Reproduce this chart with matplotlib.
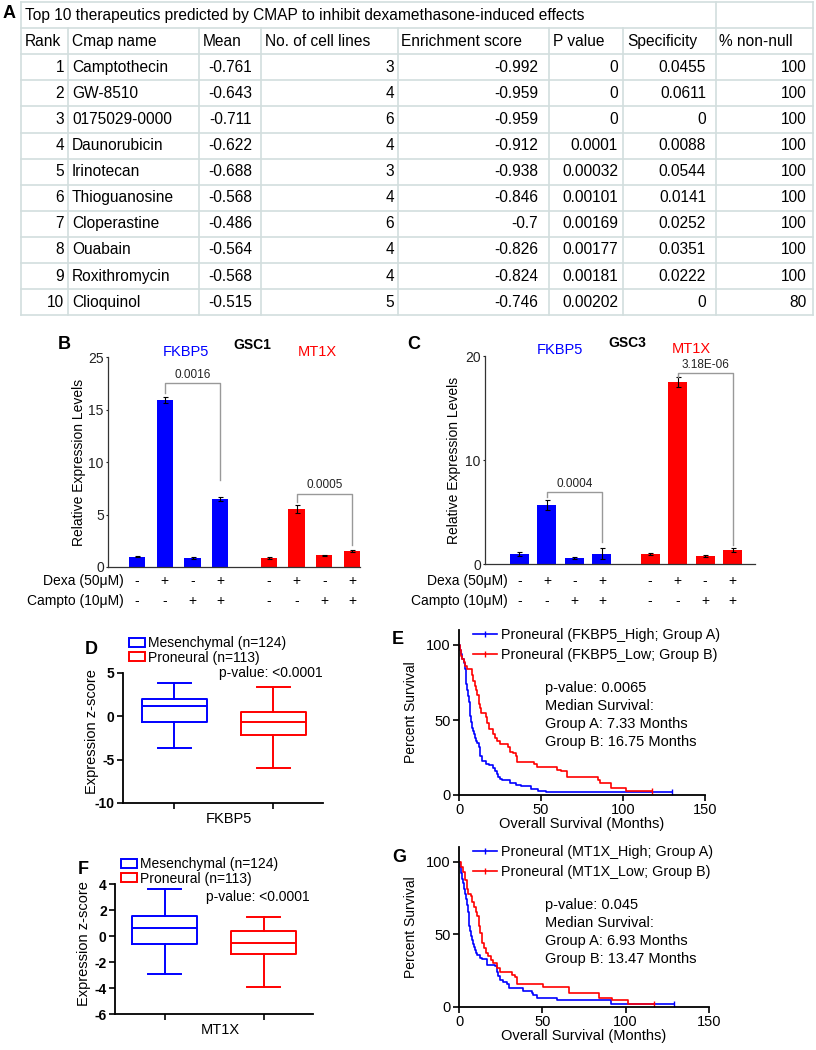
import matplotlib
matplotlib.use('Agg')
import matplotlib.pyplot as plt
import matplotlib.transforms as mtransforms
from matplotlib.lines import Line2D
from matplotlib.patches import Patch

plt.rcParams['font.family'] = ['Liberation Sans', 'DejaVu Sans']

W, H = 816, 1050

# ---- A: CMAP table
table_title = 'Top 10 therapeutics predicted by CMAP to inhibit dexamethasone-induced effects'
headers = ['Rank', 'Cmap name', 'Mean', 'No. of cell lines', 'Enrichment score',
           'P value', 'Specificity', '% non-null']
ranks = [1, 2, 3, 4, 5, 6, 7, 8, 9, 10]
cmap_names = ['Camptothecin', 'GW-8510', '0175029-0000', 'Daunorubicin', 'Irinotecan',
              'Thioguanosine', 'Cloperastine', 'Ouabain', 'Roxithromycin', 'Clioquinol']
means = [-0.761, -0.643, -0.711, -0.622, -0.688, -0.568, -0.486, -0.564, -0.568, -0.515]
n_cell_lines = [3, 4, 6, 4, 3, 4, 6, 4, 4, 5]
enrichment = [-0.992, -0.959, -0.959, -0.912, -0.938, -0.846, -0.7, -0.826, -0.824, -0.746]
p_values = [0, 0, 0, 0.0001, 0.00032, 0.00101, 0.00169, 0.00177, 0.00181, 0.00202]
specificity = [0.0455, 0.0611, 0, 0.0088, 0.0544, 0.0141, 0.0252, 0.0351, 0.0222, 0]
non_null = [100, 100, 100, 100, 100, 100, 100, 100, 100, 80]

# ---- B/C: qPCR bars
dexa = ['-', '+', '-', '+', '-', '+', '-', '+']
campto = ['-', '-', '+', '+', '-', '-', '+', '+']
gsc1_vals = [1.0, 15.9, 0.9, 6.5, 0.85, 5.5, 1.1, 1.5]
gsc1_err = [0.08, 0.3, 0.1, 0.2, 0.1, 0.4, 0.08, 0.08]
gsc3_vals = [1.0, 5.7, 0.6, 1.0, 1.0, 17.5, 0.8, 1.35]
gsc3_err = [0.2, 0.5, 0.1, 0.5, 0.1, 0.5, 0.1, 0.15]
gsc1_pvals = [(1, 3, '0.0016'), (5, 7, '0.0005')]
gsc3_pvals = [(1, 3, '0.0004'), (5, 7, '3.18E-06')]

# ---- D/F: box plots (Mesenchymal, Proneural)
fkbp5_box = [dict(whislo=-3.6, q1=-0.6, med=1.25, q3=2.0, whishi=3.8),
             dict(whislo=-6.0, q1=-2.1, med=-0.65, q3=0.5, whishi=3.35)]
mt1x_box = [dict(whislo=-2.9, q1=-0.6, med=0.6, q3=1.55, whishi=3.6),
            dict(whislo=-3.9, q1=-1.35, med=-0.5, q3=0.35, whishi=1.5)]

# ---- E/G: Kaplan-Meier curves (months, percent survival)
e_high_t = [0, 0.5, 1, 2, 3, 3.5, 4, 4.5, 5, 5.5, 6, 6.5, 7, 7.4, 8, 8.5, 9, 10, 10.5, 11,
            12, 12.5, 13, 14, 16.5, 18, 21, 22, 23, 24, 25, 26, 31, 35, 38, 44, 48, 53, 130]
e_high_s = [100, 97, 94, 91, 88, 84, 79, 74, 70, 66, 62, 58, 53, 49, 45, 43, 41, 38, 36, 35,
            32, 29, 26, 23, 21, 20, 18, 16, 14, 12, 11, 10, 8, 7, 6, 4, 3, 2, 2]
e_low_t = [0, 0.5, 1, 2, 3, 3.7, 4.7, 7.7, 8.5, 9.8, 10.5, 11.2, 12, 12.4, 13, 13.2, 16.5, 17.3,
           18.5, 20.9, 22, 23.4, 25, 30, 31, 33, 34.8, 35.6, 46, 47.4, 59.6, 62, 66, 85, 86,
           92.5, 102, 117.5]
e_low_s = [100, 97, 93, 91, 89, 86, 84, 80, 76, 73, 70, 67, 64, 61, 58, 55, 52, 48,
           44, 41, 38, 36, 34, 32, 29, 28, 26, 22, 21, 19, 17, 16, 12, 10, 8,
           5, 2.5, 2.5]
g_high_t = [0, 0.5, 1, 1.6, 2.3, 3, 3.6, 4.2, 4.7, 5.2, 5.7, 6.2, 6.6, 7, 7.6, 8.2, 9, 9.6,
            10.3, 11, 12.6, 13.5, 17, 21.6, 22.6, 23.5, 24.6, 26.6, 28.6, 30.2, 38.2, 43.6,
            44.6, 46.6, 59, 91, 129]
g_high_s = [100, 96, 92, 88, 85, 81, 78, 74, 70, 65, 60, 56, 52, 49, 46, 43, 41, 39,
            37, 36, 34, 33, 29, 28, 24, 21, 18.5, 17, 16, 13, 11, 9.7,
            8, 6.5, 4.6, 2.3, 2.3]
g_low_t = [0, 1, 2.6, 3.6, 4.6, 5.6, 7, 7.6, 9, 10.2, 11, 11.8, 12.2, 12.6, 13.6, 15, 16.2,
           17.6, 19, 20.6, 22.6, 24.6, 31.6, 33.6, 35, 50.6, 66.2, 84.2, 91.6, 101.2, 117]
g_low_s = [100, 96, 93, 87, 81, 78, 76, 72, 69, 65, 62.5, 59, 55.5, 51, 44, 40.5, 37,
           35, 32, 30, 26.6, 24.3, 22, 20.8, 16, 14, 9.3, 6.5, 4.6, 2.3, 2.3]

BLUE = '#0000ff'
RED = '#ff0000'

fig = plt.figure(figsize=(W / 100, H / 100), dpi=100)


def fx(x):
    return x / W


def fy(y):
    return 1 - y / H


def px_axes(l, t, r, b):
    return fig.add_axes([l / W, 1 - b / H, (r - l) / W, (b - t) / H])


# ================= A: table =================
tab = fig.add_axes([0, 0, 1, 1], zorder=-1)
tab.set_xlim(0, W)
tab.set_ylim(H, 0)
tab.axis('off')
col_x = [21, 68, 199, 261, 398, 549, 623, 716, 813]
row_top, row_h = 2, 26.1
n_rows = 12
grid_c = '#d2dede'
for k in range(n_rows + 1):
    y = row_top + k * row_h
    tab.plot([col_x[0], col_x[-1]], [y, y], color=grid_c, lw=1.2)
for i, x in enumerate(col_x):
    y0 = row_top if i in (0, 7, 8) else row_top + row_h
    tab.plot([x, x], [y0, row_top + n_rows * row_h], color=grid_c, lw=1.2)

fs_tab = 11.2
tab.text(25, row_top + row_h / 2, table_title, fontsize=fs_tab, va='center')
head_x = [25, 72, 203, 265, 401, 553, 627, 719]
for hx, h in zip(head_x, headers):
    tab.text(hx, row_top + 1.5 * row_h, h, fontsize=fs_tab, va='center')
cols = [(ranks, 64, 'right'), (cmap_names, 72, 'left'), (means, 252, 'right'),
        (n_cell_lines, 394, 'right'), (enrichment, 538, 'right'), (p_values, 618, 'right'),
        (specificity, 706, 'right'), (non_null, 807, 'right')]
for r in range(len(ranks)):
    yc = row_top + (r + 2.5) * row_h
    for vals, x, ha in cols:
        v = vals[r]
        s = v if isinstance(v, str) else f'{v:g}'
        tab.text(x, yc, s, fontsize=fs_tab, va='center', ha=ha)

fig.text(fx(3), fy(13), 'A', fontsize=13, fontweight='bold', va='center')

# ================= B / C: bars =================
bar_pos = [0, 1, 2, 3, 4.75, 5.75, 6.75, 7.75]
bar_cols = [BLUE] * 4 + [RED] * 4


def bar_panel(box, xlim, ylim, yticks, yticklabels, vals, errs, pvals, width,
              brackets, label_right, ylabel_x):
    ax = px_axes(*box)
    ax.bar(bar_pos, vals, width=width, color=bar_cols,
           yerr=errs, error_kw=dict(ecolor='black', elinewidth=0.8, capsize=1.8, capthick=0.8))
    ax.set_xlim(*xlim)
    ax.set_ylim(*ylim)
    ax.set_yticks(yticks)
    ax.set_yticklabels(yticklabels, fontsize=10)
    ax.set_xticks([])
    for sp in ['top', 'right']:
        ax.spines[sp].set_visible(False)
    for sp in ['left', 'bottom']:
        ax.spines[sp].set_linewidth(0.9)
        ax.spines[sp].set_color('#333333')
    ax.tick_params(axis='y', length=1.5, width=0.8, pad=1.5, colors='#222222')
    # brackets: (left leg gap, top level, right leg gap)
    for (i, j, lab), (le, y_top, re) in zip(pvals, brackets):
        ax.plot([bar_pos[i], bar_pos[i], bar_pos[j], bar_pos[j]],
                [vals[i] + errs[i] + le, y_top, y_top, vals[j] + errs[j] + re],
                color='#999999', lw=1.0)
        ax.text((bar_pos[i] + bar_pos[j]) / 2, y_top + 0.2, lab, ha='center', va='bottom',
                fontsize=8.5, color='#222222')
    tr = mtransforms.blended_transform_factory(ax.transData, fig.transFigure)
    for p, d, c in zip(bar_pos, dexa, campto):
        ax.text(p, fy(581), d, transform=tr, ha='center', va='center', fontsize=10)
        ax.text(p, fy(601), c, transform=tr, ha='center', va='center', fontsize=10)
    fig.text(fx(label_right), fy(581), 'Dexa (50\u03bcM)', ha='right', va='center', fontsize=10)
    fig.text(fx(label_right), fy(601), 'Campto (10\u03bcM)', ha='right', va='center', fontsize=10)
    fig.text(fx(ylabel_x), fy((box[1] + box[3]) / 2), 'Relative Expression Levels',
             rotation=90, ha='center', va='center', fontsize=10)
    return ax


bar_panel((108, 357, 360, 567), (-1.05, 8.04), (0, 20), [0, 5, 10, 15, 20],
          ['0', '5', '10', '15', '25'], gsc1_vals, gsc1_err, gsc1_pvals, 0.59,
          [(0.4, 17.5, 1.6), (0.3, 7.0, 0.5)], 124, 79)
bar_panel((485, 356, 755, 564), (-1.25, 8.56), (0, 20), [0, 10, 20],
          ['0', '10', '20'], gsc3_vals, gsc3_err, gsc3_pvals, 0.69,
          [(0.2, 6.9, 0.6), (0.0, 18.4, 0.3)], 508, 454)

fig.text(fx(58), fy(345), 'B', fontsize=13, fontweight='bold', va='center')
fig.text(fx(186), fy(352), 'FKBP5', color=BLUE, fontsize=10.5, ha='center', va='center')
fig.text(fx(252), fy(345), 'GSC1', fontsize=10, fontweight='bold', ha='center', va='center')
fig.text(fx(317), fy(352), 'MT1X', color=RED, fontsize=10.5, ha='center', va='center')
fig.text(fx(407), fy(345), 'C', fontsize=13, fontweight='bold', va='center')
fig.text(fx(560), fy(350), 'FKBP5', color=BLUE, fontsize=10.5, ha='center', va='center')
fig.text(fx(627), fy(343), 'GSC3', fontsize=10, fontweight='bold', ha='center', va='center')
fig.text(fx(691), fy(349), 'MT1X', color=RED, fontsize=10.5, ha='center', va='center')


# ================= D / F: box plots =================
def box_panel(box, xlim, ylim, yticks, stats, gene, letter_xy, legend_xy, pval_xy, ylabel_xy):
    ax = px_axes(*box)
    for k, (st, col) in enumerate(zip(stats, [BLUE, RED])):
        s = dict(st, fliers=[])
        props = dict(color=col, linewidth=1.4)
        ax.bxp([s], positions=[k + 1], widths=0.66, capwidths=0.34, showfliers=False,
               boxprops=props, whiskerprops=props, capprops=props, medianprops=props)
    ax.set_xlim(*xlim)
    ax.set_ylim(*ylim)
    ax.set_yticks(yticks)
    ax.set_yticklabels([str(t) for t in yticks], fontsize=10, fontweight='bold')
    ax.set_xticks([1, 2])
    ax.set_xticklabels(['', ''])
    for sp in ['top', 'right']:
        ax.spines[sp].set_visible(False)
    for sp in ['left', 'bottom']:
        ax.spines[sp].set_linewidth(1.3)
    ax.tick_params(length=4, width=1.2, pad=2)
    fig.text(fx((box[0] + box[2]) / 2 + 6), fy(box[3] + 16), gene, ha='center', va='center',
             fontsize=10.5)
    fig.text(fx(ylabel_xy[0]), fy(ylabel_xy[1]), 'Expression z-score', rotation=90,
             ha='center', va='center', fontsize=10.5)
    handles = [Patch(facecolor='none', edgecolor=BLUE, linewidth=1.4),
               Patch(facecolor='none', edgecolor=RED, linewidth=1.4)]
    fig.legend(handles, ['Mesenchymal (n=124)', 'Proneural (n=113)'], loc='upper left',
               bbox_to_anchor=(fx(legend_xy[0]), fy(legend_xy[1])), frameon=False,
               fontsize=10, borderpad=0, borderaxespad=0, handlelength=1.15,
               handleheight=0.6, handletextpad=0.25, labelspacing=0.05)
    fig.text(fx(pval_xy[0]), fy(pval_xy[1]), 'p-value: <0.0001', ha='right', va='center',
             fontsize=10)
    fig.text(fx(letter_xy[0]), fy(letter_xy[1]), letter_xy[2], fontsize=13,
             fontweight='bold', va='center')
    return ax


box_panel((123, 673, 323, 803), (0.48, 2.5), (-10, 5), [-10, -5, 0, 5], fkbp5_box, 'FKBP5',
          (85, 650, 'D'), (129, 636), (323, 673), (92, 732))
box_panel((115, 884, 313, 1014), (0.5, 2.5), (-6, 4), [-6, -4, -2, 0, 2, 4], mt1x_box, 'MT1X',
          (78, 870, 'F'), (121, 857), (310, 897), (84, 944))


# ================= E / G: survival =================
def km_panel(box, curves, labels, notes, letter_xy, legend_xy, note_xy):
    ax = px_axes(*box)
    for (t, s), col in zip(curves, [BLUE, RED]):
        ax.step(t, s, where='post', color=col, lw=1.2)
        ax.plot(t[-1], s[-1], marker='|', color=col, ms=4, mew=1)
    ax.set_xlim(0, 150)
    ax.set_ylim(0, 110)
    ax.set_xticks([0, 50, 100, 150])
    ax.set_yticks([0, 50, 100])
    ax.tick_params(labelsize=10.5, length=4, width=1.2, pad=2)
    for sp in ['top', 'right']:
        ax.spines[sp].set_visible(False)
    for sp in ['left', 'bottom']:
        ax.spines[sp].set_linewidth(1.3)
    ax.set_xlabel('Overall Survival (Months)', fontsize=10.5, labelpad=0)
    ax.set_ylabel('Percent Survival', fontsize=10, labelpad=6)
    handles = [Line2D([0], [0], color=BLUE, lw=1.2, marker='|', ms=4),
               Line2D([0], [0], color=RED, lw=1.2, marker='|', ms=4)]
    fig.legend(handles, labels, loc='upper left',
               bbox_to_anchor=(fx(legend_xy[0]), fy(legend_xy[1])), frameon=False,
               fontsize=10.3, borderpad=0, borderaxespad=0, handlelength=1.65,
               handletextpad=0.3, labelspacing=0.4)
    for k, line in enumerate(notes):
        fig.text(fx(note_xy[0]), fy(note_xy[1] + 18 * k), line, va='center', fontsize=10.5)
    fig.text(fx(letter_xy[0]), fy(letter_xy[1]), letter_xy[2], fontsize=13,
             fontweight='bold', va='center')
    return ax


km_panel((459, 630, 705, 795), [(e_high_t, e_high_s), (e_low_t, e_low_s)],
         ['Proneural (FKBP5_High; Group A)', 'Proneural (FKBP5_Low; Group B)'],
         ['p-value: 0.0065', 'Median Survival:', 'Group A: 7.33 Months', 'Group B: 16.75 Months'],
         (392, 640, 'E'), (473, 628), (545, 688))
km_panel((459, 847, 709, 1007), [(g_high_t, g_high_s), (g_low_t, g_low_s)],
         ['Proneural (MT1X_High; Group A)', 'Proneural (MT1X_Low; Group B)'],
         ['p-value: 0.045', 'Median Survival:', 'Group A: 6.93 Months', 'Group B: 13.47 Months'],
         (392, 857, 'G'), (473, 845), (545, 905))

fig.savefig('out.png', dpi=100)
